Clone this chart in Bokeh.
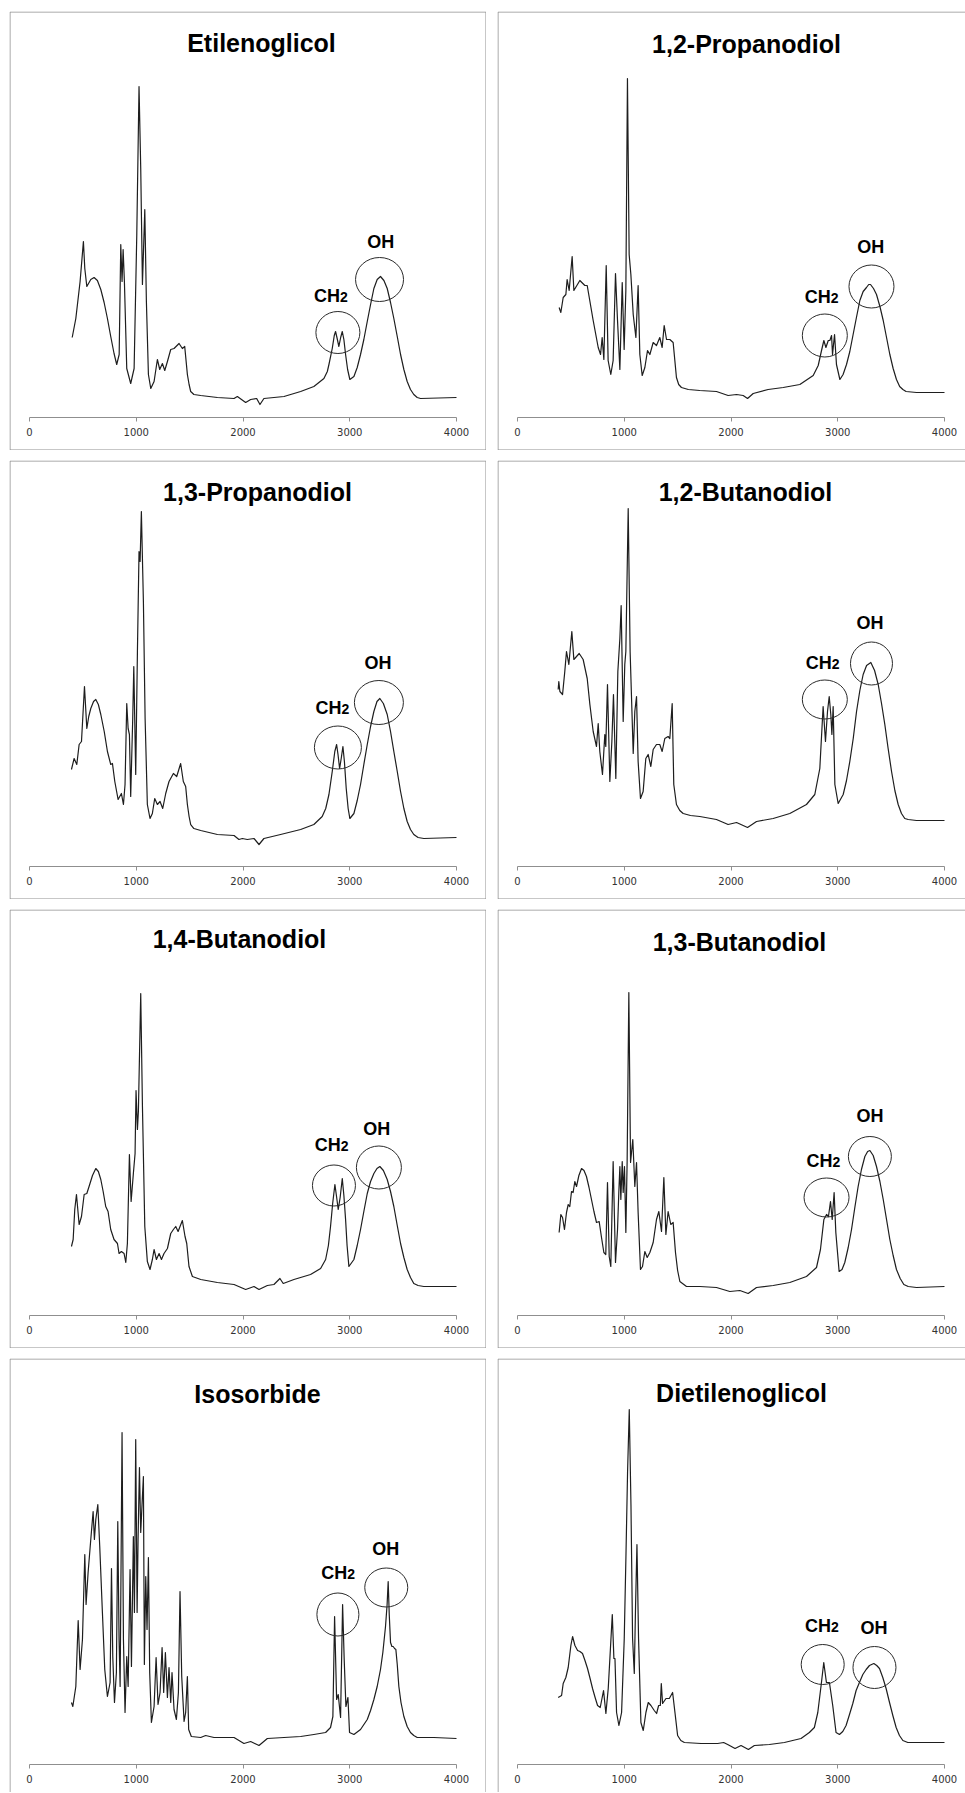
from bokeh.plotting import figure
from bokeh.models import Range1d, LinearAxis, FixedTicker, BoxAnnotation
from bokeh.layouts import column, row
from bokeh.embed import file_html
from bokeh.resources import INLINE
from bokeh.core.properties import value

# ---------------- data (wavenumber cm-1, relative intensity) ----------------
TICKS = [0, 1000, 2000, 3000, 4000]
TICK_LABELS = ["0", "1000", "2000", "3000", "4000"]

EG_WN = [400, 434, 474, 505, 518, 537, 574, 605, 636, 668,
         699, 730, 761, 792, 817, 840, 855, 867, 877, 889,
         911, 948, 980, 1005, 1026, 1042, 1058, 1080, 1095, 1114,
         1136, 1167, 1198, 1220, 1245, 1267, 1292, 1323, 1354, 1401,
         1432, 1454, 1479, 1495, 1510, 1540, 1604, 1760, 1916, 1947,
         2025, 2072, 2128, 2159, 2196, 2384, 2540, 2664, 2758, 2790,
         2805, 2836, 2855, 2867, 2880, 2898, 2915, 2930, 2945, 2961,
         2980, 3001, 3039, 3070, 3101, 3132, 3164, 3195, 3226, 3257,
         3288, 3320, 3351, 3382, 3413, 3445, 3476, 3507, 3538, 3569,
         3600, 3632, 3663, 4000]
EG_I = [80, 99, 136, 176, 149, 131, 138, 140, 137, 128,
        115, 99, 81, 64, 53, 63, 173, 136, 168, 136,
        49, 34, 49, 183, 331, 249, 133, 208, 116, 43,
        29, 36, 58, 48, 54, 47, 56, 68, 69, 74,
        69, 71, 43, 33, 26, 23, 22, 20, 19, 21,
        15, 18, 19, 13, 19, 21, 26, 31, 39, 46,
        53, 69, 82, 86, 80, 71, 80, 86, 78, 63,
        48, 38, 41, 50, 63, 78, 96, 113, 129, 138,
        141, 137, 129, 115, 99, 81, 63, 48, 36, 28,
        23, 20, 19, 20]

P12_WN = [390, 406, 428, 453, 465, 484, 512, 528, 584, 631,
          653, 709, 756, 778, 793, 809, 831, 849, 874, 896,
          918, 937, 959, 981, 999, 1015, 1030, 1046, 1062, 1084,
          1109, 1130, 1146, 1168, 1193, 1218, 1240, 1271, 1302, 1333,
          1355, 1374, 1396, 1427, 1458, 1489, 1510, 1536, 1600, 1708,
          1864, 1973, 2052, 2114, 2155, 2208, 2348, 2489, 2645, 2770,
          2817, 2848, 2870, 2889, 2911, 2926, 2942, 2951, 2970, 2988,
          3020, 3050, 3082, 3113, 3144, 3175, 3207, 3238, 3269, 3290,
          3307, 3335, 3363, 3395, 3426, 3457, 3488, 3519, 3550, 3580,
          3610, 3640, 3738, 4000]
P12_I = [110, 105, 120, 123, 138, 127, 161, 127, 137, 132,
         132, 97, 70, 63, 80, 58, 152, 57, 43, 57,
         144, 97, 48, 135, 68, 127, 339, 163, 143, 103,
         80, 132, 63, 42, 50, 67, 63, 75, 72, 80,
         70, 92, 78, 78, 75, 40, 33, 30, 28, 27,
         26, 22, 23, 22, 19, 24, 28, 30, 33, 42,
         52, 67, 77, 70, 77, 77, 82, 63, 83, 53,
         38, 43, 53, 66, 83, 100, 117, 126, 130, 133,
         133, 129, 123, 111, 97, 80, 63, 49, 38, 31,
         28, 26, 25, 25]

P13_WN = [393, 418, 443, 465, 487, 515, 537, 555, 574, 600,
          621, 645, 668, 700, 730, 761, 777, 799, 830, 861,
          880, 895, 911, 924, 936, 948, 967, 977, 995, 1011,
          1026, 1036, 1048, 1067, 1083, 1104, 1129, 1151, 1173, 1198,
          1223, 1248, 1276, 1307, 1348, 1379, 1416, 1441, 1463, 1479,
          1495, 1510, 1540, 1604, 1760, 1916, 1962, 1994, 2040, 2103,
          2150, 2196, 2352, 2540, 2664, 2742, 2775, 2805, 2836, 2860,
          2877, 2890, 2905, 2920, 2936, 2950, 2967, 2985, 3001, 3039,
          3070, 3101, 3132, 3164, 3195, 3226, 3255, 3282, 3315, 3351,
          3382, 3413, 3445, 3476, 3507, 3538, 3569, 3600, 3640, 3694,
          4000]
P13_I = [97, 108, 102, 122, 125, 180, 138, 150, 158, 165,
         167, 162, 152, 135, 115, 102, 103, 85, 67, 73,
         62, 82, 163, 138, 132, 70, 148, 200, 92, 215,
         315, 305, 355, 265, 148, 62, 48, 53, 68, 62,
         65, 58, 73, 85, 93, 90, 103, 85, 80, 62,
         50, 42, 38, 36, 32, 31, 27, 28, 27, 28,
         22, 28, 32, 37, 42, 50, 58, 72, 95, 115,
         122, 112, 98, 108, 120, 105, 78, 58, 48, 53,
         66, 82, 102, 122, 140, 155, 165, 168, 163, 152,
         135, 115, 95, 75, 58, 45, 37, 32, 29, 28,
         29]

B12_WN = [381, 387, 397, 422, 443, 459, 481, 509, 528, 578,
          615, 653, 678, 709, 740, 756, 771, 796, 818, 827,
          843, 865, 884, 899, 921, 940, 959, 971, 990, 1005,
          1015, 1037, 1055, 1084, 1099, 1115, 1130, 1152, 1177, 1202,
          1224, 1249, 1271, 1302, 1333, 1355, 1380, 1411, 1427, 1449,
          1464, 1489, 1520, 1552, 1620, 1708, 1864, 1973, 2052, 2155,
          2239, 2395, 2551, 2707, 2785, 2832, 2863, 2885, 2904, 2920,
          2935, 2945, 2957, 2973, 3004, 3051, 3082, 3113, 3145, 3176,
          3207, 3238, 3270, 3310, 3345, 3379, 3410, 3441, 3472, 3504,
          3535, 3566, 3597, 3628, 3660, 3738, 4000]
B12_I = [177, 185, 175, 172, 195, 215, 202, 235, 207, 213,
         207, 188, 162, 135, 120, 143, 115, 92, 132, 120,
         182, 85, 125, 172, 88, 195, 228, 261, 145, 202,
         215, 358, 215, 113, 155, 170, 105, 68, 75, 108,
         112, 100, 117, 122, 122, 115, 128, 130, 128, 163,
         82, 62, 56, 53, 51, 50, 47, 42, 44, 39,
         45, 48, 53, 62, 72, 98, 160, 125, 155, 170,
         152, 132, 160, 82, 63, 72, 86, 105, 128, 155,
         176, 192, 201, 204, 196, 182, 163, 142, 118, 95,
         76, 62, 53, 48, 47, 46, 46]

B14_WN = [393, 409, 424, 440, 465, 487, 512, 537, 558, 590,
          621, 645, 668, 690, 714, 736, 761, 792, 824, 839,
          861, 886, 902, 917, 936, 952, 973, 989, 998, 1011,
          1020, 1042, 1058, 1080, 1104, 1129, 1151, 1167, 1189, 1214,
          1236, 1260, 1292, 1323, 1348, 1370, 1392, 1432, 1457, 1473,
          1494, 1526, 1604, 1760, 1916, 2025, 2103, 2150, 2228, 2290,
          2346, 2377, 2477, 2633, 2727, 2774, 2800, 2820, 2840, 2861,
          2875, 2892, 2910, 2930, 2945, 2961, 2975, 2992, 3039, 3070,
          3101, 3132, 3164, 3195, 3226, 3255, 3282, 3315, 3351, 3382,
          3413, 3445, 3476, 3507, 3538, 3569, 3600, 3640, 3694, 4000]
B14_I = [69, 76, 106, 121, 91, 99, 121, 122, 129, 140,
         147, 144, 136, 124, 109, 104, 86, 76, 72, 62,
         64, 62, 53, 72, 161, 114, 142, 162, 225, 186,
         204, 322, 209, 89, 54, 46, 56, 66, 56, 62,
         56, 62, 67, 82, 86, 89, 84, 95, 79, 72,
         49, 39, 36, 33, 31, 26, 29, 26, 30, 31,
         37, 32, 36, 41, 47, 56, 70, 89, 112, 131,
         120, 106, 118, 137, 120, 96, 70, 49, 56, 70,
         86, 104, 122, 134, 142, 147, 149, 145, 136, 124,
         109, 90, 72, 58, 46, 38, 32, 30, 29, 29]

B13_WN = [390, 406, 422, 440, 459, 475, 490, 506, 521, 537,
          553, 575, 600, 623, 646, 670, 693, 716, 740, 765,
          787, 809, 827, 843, 859, 874, 896, 918, 937, 949,
          959, 968, 981, 990, 1002, 1015, 1027, 1043, 1059, 1080,
          1099, 1115, 1130, 1152, 1171, 1193, 1215, 1240, 1271, 1302,
          1324, 1349, 1371, 1390, 1411, 1436, 1458, 1480, 1500, 1521,
          1583, 1708, 1864, 1989, 2083, 2161, 2239, 2395, 2551, 2707,
          2801, 2838, 2870, 2895, 2913, 2932, 2948, 2966, 2982, 3013,
          3040, 3066, 3098, 3129, 3160, 3191, 3222, 3254, 3280, 3301,
          3332, 3363, 3395, 3426, 3457, 3488, 3519, 3550, 3585, 3619,
          3660, 3738, 4000]
B13_I = [83, 101, 98, 86, 103, 111, 109, 124, 123, 134,
         129, 140, 147, 145, 139, 128, 116, 104, 93, 94,
         78, 63, 61, 133, 59, 49, 154, 53, 86, 123,
         149, 116, 154, 123, 149, 83, 154, 323, 153, 176,
         129, 153, 103, 46, 49, 64, 58, 63, 73, 96,
         104, 84, 138, 81, 104, 91, 93, 63, 45, 34,
         29, 29, 28, 24, 25, 22, 28, 30, 33, 39,
         48, 66, 96, 101, 99, 114, 96, 123, 83, 44,
         46, 53, 68, 86, 108, 129, 146, 159, 164, 165,
         160, 149, 134, 116, 96, 76, 60, 46, 37, 31,
         29, 28, 29]

ISO_WN = [393, 406, 434, 456, 474, 496, 518, 530, 549, 574,
          596, 608, 621, 640, 658, 683, 705, 730, 755, 768,
          780, 796, 814, 827, 839, 849, 867, 880, 895, 911,
          924, 942, 955, 973, 983, 995, 1008, 1017, 1030, 1042,
          1055, 1067, 1076, 1089, 1101, 1114, 1126, 1142, 1167, 1186,
          1204, 1223, 1242, 1257, 1273, 1292, 1307, 1323, 1335, 1354,
          1376, 1395, 1410, 1426, 1448, 1463, 1479, 1491, 1516, 1604,
          1650, 1728, 1916, 2009, 2072, 2150, 2228, 2384, 2540, 2664,
          2774, 2820, 2842, 2858, 2877, 2892, 2914, 2933, 2948, 2964,
          2983, 2998, 3039, 3101, 3164, 3195, 3226, 3257, 3288, 3310,
          3335, 3350, 3360, 3370, 3382, 3395, 3407, 3420, 3432, 3445,
          3460, 3480, 3507, 3538, 3569, 3600, 3632, 3788, 4000]
ISO_I = [62, 58, 78, 144, 95, 125, 210, 160, 192, 225,
         253, 225, 245, 260, 218, 152, 95, 68, 82, 196,
         108, 62, 92, 243, 125, 78, 332, 125, 52, 108,
         78, 195, 98, 228, 152, 325, 152, 225, 297, 232,
         262, 288, 100, 188, 135, 207, 92, 42, 58, 107,
         60, 72, 117, 72, 112, 67, 97, 62, 92, 55,
         45, 72, 173, 88, 43, 52, 88, 35, 28, 27,
         29, 27, 27, 21, 23, 19, 26, 27, 28, 30,
         32, 37, 48, 148, 65, 70, 47, 160, 105, 58,
         67, 32, 30, 35, 45, 54, 65, 78, 95, 112,
         138, 160, 183, 150, 122, 118, 118, 116, 115, 100,
         78, 62, 48, 38, 32, 29, 27, 27, 26]

DEG_WN = [381, 413, 428, 453, 475, 500, 516, 538, 563, 585,
          609, 632, 656, 680, 703, 727, 750, 775, 806, 828,
          850, 888, 903, 913, 928, 950, 975, 1000, 1016, 1031,
          1047, 1063, 1078, 1094, 1106, 1119, 1134, 1156, 1178, 1203,
          1225, 1250, 1281, 1303, 1322, 1338, 1347, 1359, 1391, 1422,
          1453, 1475, 1500, 1530, 1563, 1719, 1875, 1931, 1969, 2038,
          2094, 2163, 2219, 2359, 2500, 2656, 2734, 2781, 2813, 2844,
          2869, 2894, 2922, 2953, 2984, 3016, 3047, 3078, 3110, 3141,
          3172, 3203, 3235, 3266, 3297, 3338, 3365, 3391, 3422, 3453,
          3485, 3516, 3547, 3578, 3610, 3656, 3813, 4000]
DEG_I = [67, 69, 81, 87, 97, 119, 128, 119, 114, 113,
         111, 104, 96, 86, 76, 67, 59, 57, 74, 51,
         76, 150, 106, 106, 52, 39, 52, 126, 209, 292,
         355, 259, 126, 91, 159, 220, 126, 42, 34, 52,
         62, 59, 54, 51, 59, 59, 81, 61, 66, 66,
         72, 52, 29, 24, 22, 21, 21, 22, 20, 16,
         19, 15, 19, 20, 22, 26, 32, 37, 52, 79,
         102, 82, 82, 59, 32, 30, 33, 39, 50, 61,
         74, 82, 90, 95, 99, 101, 99, 96, 87, 76,
         62, 49, 37, 29, 24, 22, 22, 22]

TITLES = ["Etilenoglicol", "1,2-Propanodiol", "1,3-Propanodiol", "1,2-Butanodiol",
          "1,4-Butanodiol", "1,3-Butanodiol", "Isosorbide", "Dietilenoglicol"]
SERIES = [(EG_WN, EG_I), (P12_WN, P12_I), (P13_WN, P13_I), (B12_WN, B12_I),
          (B14_WN, B14_I), (B13_WN, B13_I), (ISO_WN, ISO_I), (DEG_WN, DEG_I)]

# band markers: circle centre (wn, intensity) for CH2 and OH bands
CH2_MARK = [(2889, 85), (2879, 82), (2889, 119), (2879, 167), (2852, 130), (2895, 118), (2889, 150), (2859, 100)]
OH_MARK = [(3279, 138), (3316, 131), (3273, 164), (3316, 203), (3273, 148), (3301, 159), (3342, 177), (3344, 97)]

# ---------------- layout / style (not data) ----------------
CH2_SIZE = [(44, 42), (45, 43), (47, 43), (45, 39), (43, 41), (45, 39), (42, 43), (43, 40)]
OH_SIZE = [(48, 44), (45, 43), (49, 44), (42, 43), (45, 43), (43, 40), (43, 39), (43, 42)]
CH2_LABEL_POS = [(2664, 116), (2692, 115), (2680, 153), (2701, 198), (2671, 165), (2707, 149), (2733, 186), (2694, 133)]
OH_LABEL_POS = [(3164, 170), (3182, 165), (3139, 198), (3176, 238), (3126, 181), (3176, 194), (3210, 210), (3213, 131)]
TITLE_POS = [(252, 39), (249, 40), (248, 39), (248, 39), (230, 37), (242, 40), (248, 43), (244, 42)]

K = 4000 / 427.0          # wavenumber per pixel
AXIS_FROM_TOP = 406       # px from panel top to axis line
FRAME = "#8f8f8f"
INK = "#1e1e1e"
FONT = value("Liberation Sans")
LIFT = 0.32               # baseline correction, fraction of font size


def add_text(p, x, y, s, size, align="left", dx=0):
    p.text(x=[x], y=[y + LIFT * size], text=[s], x_offset=dx, text_font=FONT,
           text_font_style="bold", text_font_size=f"{size}px", text_baseline="alphabetic",
           text_align=align, text_color="black")


def make_panel(i):
    col = i % 2
    rw = i // 2
    W = 477 if col == 0 else 468
    H = 439 if rw < 3 else 434
    x0 = -20 * K
    x1 = x0 + W * K
    y1 = AXIS_FROM_TOP
    y0 = y1 - H
    p = figure(width=W, height=H, x_range=Range1d(x0, x1), y_range=Range1d(y0, y1),
               x_axis_type=None, y_axis_type=None, toolbar_location=None,
               output_backend="svg", min_border=0, outline_line_color=None,
               background_fill_color="white", border_fill_color="white")

    # panel border
    p.add_layout(BoxAnnotation(left=x0 + 0.5 * K,
                               right=(x1 - 0.5 * K) if col == 0 else (x1 + 30 * K),
                               top=y1 - 0.5,
                               bottom=(y0 + 0.5) if rw < 3 else (y0 - 30),
                               fill_color=None, fill_alpha=0, line_color=FRAME,
                               line_alpha=1, line_width=1, line_dash="solid", level="underlay"))

    ax = LinearAxis(ticker=FixedTicker(ticks=TICKS), fixed_location=0, bounds=(0, 4000),
                    axis_line_color=FRAME, major_tick_line_color=FRAME,
                    major_tick_out=4, major_tick_in=0, minor_tick_line_color=None,
                    major_label_text_font="DejaVu Sans", major_label_text_font_size="10px",
                    major_label_text_color="#333333", major_label_standoff=6)
    ax.major_label_overrides = {t: s for t, s in zip(TICKS, TICK_LABELS)}
    p.add_layout(ax, "below")

    wn, inten = SERIES[i]
    p.line(wn, inten, line_color=INK, line_width=1.2, line_join="round")

    # circles
    for (cx, cy), (w, h) in ((CH2_MARK[i], CH2_SIZE[i]), (OH_MARK[i], OH_SIZE[i])):
        p.ellipse(x=[cx], y=[cy], width=w, height=h, width_units="screen", height_units="screen",
                  fill_color=None, line_color="#2a2a2a", line_width=1)

    lx, ly = CH2_LABEL_POS[i]
    add_text(p, lx, ly, "CH", 18)
    add_text(p, lx, ly, "2", 14, dx=26)
    ox, oy = OH_LABEL_POS[i]
    add_text(p, ox, oy, "OH", 18)

    tx, tb = TITLE_POS[i]
    add_text(p, x0 + tx * K, y1 - tb, TITLES[i], 25, align="center")
    return p


panels = [make_panel(i) for i in range(8)]
rows = [row(panels[2 * r], panels[2 * r + 1], spacing=11) for r in range(4)]
layout = column(*rows, spacing=10)
layout.margin = (11, 0, 0, 9)

open("out.html", "w").write(file_html(layout, INLINE))
